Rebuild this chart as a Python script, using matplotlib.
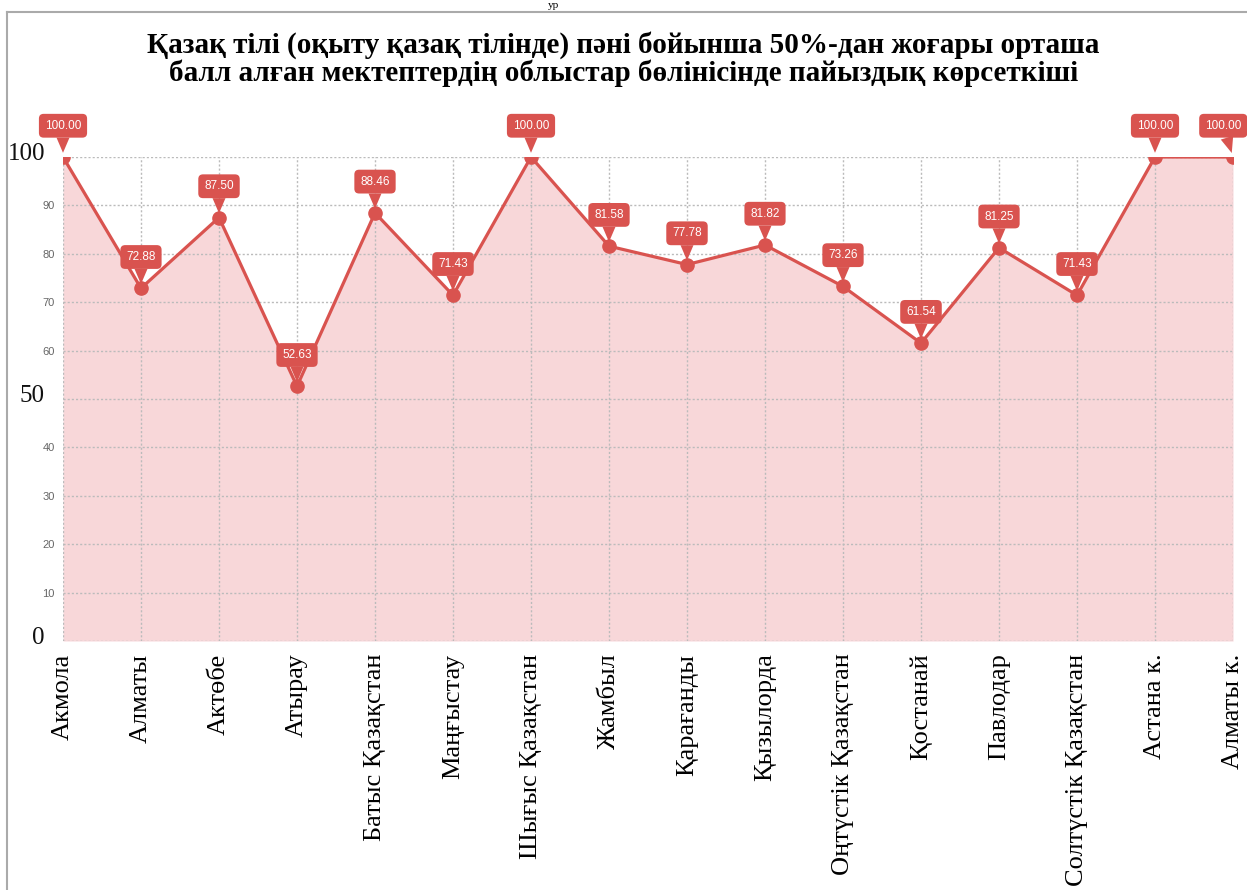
import numpy as np
import matplotlib
matplotlib.use('Agg')
import matplotlib.pyplot as plt
from matplotlib.lines import Line2D

# data
regions = ['Акмола', 'Алматы', 'Актөбе', 'Атырау', 'Батыс Қазақстан', 'Маңғыстау',
           'Шығыс Қазақстан', 'Жамбыл', 'Қарағанды', 'Қызылорда', 'Оңтүстік Қазақстан',
           'Қостанай', 'Павлодар', 'Солтүстік Қазақстан', 'Астана к.', 'Алматы к.']
percent = [100.00, 72.88, 87.50, 52.63, 88.46, 71.43, 100.00, 81.58, 77.78, 81.82,
           73.26, 61.54, 81.25, 71.43, 100.00, 100.00]
yticks = [0, 10, 20, 30, 40, 50, 60, 70, 80, 90, 100]
big_ticks = [0, 50, 100]
title = ('Қазақ тілі (оқыту қазақ тілінде) пәні бойынша 50%-дан жоғары орташа\n'
         'балл алған мектептердің облыстар бөлінісінде пайыздық көрсеткіші')

SERIF = ['Liberation Serif', 'DejaVu Serif']
SANS = ['Liberation Sans', 'DejaVu Sans']
RED = '#d9534f'

W, H = 1247, 890
fig = plt.figure(figsize=(W / 100, H / 100), dpi=100)
ax = fig.add_axes([63 / W, (H - 641) / H, (1233 - 63) / W, (641 - 157) / H])

x = np.arange(len(regions))
ax.fill_between(x, percent, 0, color='#f6c6ca', alpha=0.7, lw=0, zorder=0.2)
ax.plot(x, percent, color=RED, lw=2.3, zorder=3)
ax.plot(x, percent, 'o', color=RED, ms=9.5, zorder=4)

# value labels (box + short pointer); last one nudged left to stay on the page
for xi, v in zip(x, percent):
    dx = -7 if xi == len(regions) - 1 else 0
    ax.annotate('%.2f' % v, xy=(xi, v), xytext=(dx, 22.5), textcoords='offset points',
                ha='center', va='center', color='white', fontsize=8.5, family=SANS,
                zorder=6, annotation_clip=False,
                bbox=dict(boxstyle='round,pad=0.5,rounding_size=0.4', fc=RED, ec='none'),
                arrowprops=dict(arrowstyle='wedge,tail_width=1.1,shrink_factor=0.5',
                                fc=RED, ec='none', shrinkA=0, shrinkB=3))

ax.set_xlim(0, len(regions) - 1)
ax.set_ylim(0, 100)
ax.set_xticks(x)
ax.set_xticklabels(regions, rotation=90, family=SERIF, fontsize=19, va='top')
ax.set_yticks(yticks)
ax.set_yticklabels(['' if t in big_ticks else str(t) for t in yticks],
                   family=SANS, fontsize=8, color='#666666')
ax.tick_params(length=0)
ax.tick_params(axis='y', pad=6)
ax.tick_params(axis='x', pad=9)
for t in big_ticks:
    ax.annotate(str(t), xy=(0, t), xycoords=('axes fraction', 'data'), xytext=(-13, 2),
                textcoords='offset points', ha='right', va='center',
                family=SERIF, fontsize=18, color='#111111')

ax.set_axisbelow(True)
ax.grid(True, color='#bbbbbb', linestyle=(0, (1.5, 1.5)), lw=1)
for s in ax.spines.values():
    s.set_visible(False)
ax.set_facecolor('none')

fig.text(0.5, 1 - 59 / H, title, ha='center', va='center', family=SERIF,
         fontweight='bold', fontsize=21, linespacing=1.0)

# text cut by the page above the frame, and frame lines
fig.text(553 / W, 1 - 1 / H, 'ур', ha='center', va='top', family=SERIF, fontsize=8)
fig.add_artist(Line2D([7 / W, 1.0], [1 - 12 / H, 1 - 12 / H], color='#aaaaaa', lw=1.5))
fig.add_artist(Line2D([7 / W, 7 / W], [1 - 12 / H, 0], color='#aaaaaa', lw=1.5))

fig.savefig('out.png', dpi=100)
